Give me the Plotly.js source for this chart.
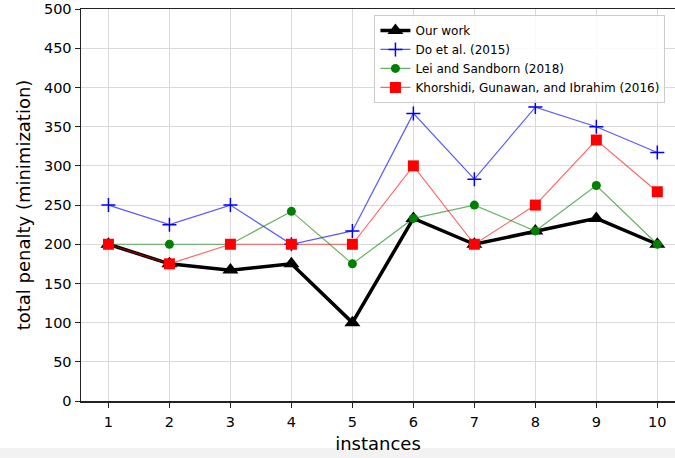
<!DOCTYPE html>
<html>
<head>
<meta charset="utf-8">
<script src="https://cdn.plot.ly/plotly-3.0.1.min.js"></script>
<style>html,body{margin:0;padding:0;background:#fff;}#chart{width:675px;height:458px;}</style>
</head>
<body>
<div id="chart"></div>
<script>
const instances = [1, 2, 3, 4, 5, 6, 7, 8, 9, 10];
const ourWork = [200, 175, 167, 175, 100, 233, 200, 217, 233, 200];
const doEtAl = [250, 225, 250, 200, 217, 367, 283, 375, 350, 317];
const leiSandborn = [200, 200, 200, 242, 175, 233, 250, 217, 275, 200];
const khorshidi = [200, 175, 200, 200, 200, 300, 200, 250, 333, 267];
const seriesNames = ["Our work", "Do et al. (2015)", "Lei and Sandborn (2018)", "Khorshidi, Gunawan, and Ibrahim (2016)"];
const yTicks = [0, 50, 100, 150, 200, 250, 300, 350, 400, 450, 500];

const traces = [
  {x: instances, y: ourWork, name: seriesNames[0], mode: "lines+markers",
   line: {color: "#000000", width: 3.5},
   marker: {symbol: "triangle-up", size: 14, color: "#000000"}},
  {x: instances, y: doEtAl, name: seriesNames[1], mode: "lines+markers",
   line: {color: "rgba(0,0,255,0.65)", width: 1.2},
   marker: {symbol: "cross-thin", size: 10, color: "#0000ff", line: {color: "#0000ff", width: 1.5}}},
  {x: instances, y: leiSandborn, name: seriesNames[2], mode: "lines+markers",
   line: {color: "rgba(0,128,0,0.6)", width: 1.2},
   marker: {symbol: "circle", size: 9, color: "#008000"}},
  {x: instances, y: khorshidi, name: seriesNames[3], mode: "lines+markers",
   line: {color: "rgba(255,0,0,0.6)", width: 1.2},
   marker: {symbol: "square", size: 11, color: "#ff0000"}}
];

const layout = {
  width: 675, height: 458,
  margin: {l: 81, r: 0, t: 9, b: 57, pad: 0},
  paper_bgcolor: "#ffffff", plot_bgcolor: "#ffffff",
  font: {family: "DejaVu Sans, sans-serif", color: "#000000"},
  showlegend: true,
  legend: {x: 0.494, y: 0.985, xanchor: "left", yanchor: "top",
    bgcolor: "rgba(255,255,255,0.85)", bordercolor: "#cccccc", borderwidth: 1,
    font: {size: 12, family: "DejaVu Sans, sans-serif"}, tracegroupgap: 0, itemwidth: 30},
  xaxis: {
    range: [0.55, 10.29], tickmode: "array", tickvals: instances, ticktext: instances.map(String),
    showgrid: true, gridcolor: "#d9d9d9", gridwidth: 1,
    showline: true, linecolor: "#222222", linewidth: 1.5, mirror: true,
    ticks: "outside", ticklen: 5, tickcolor: "#222222", ticklabelstandoff: 2,
    tickfont: {size: 14.5}, zeroline: false,
    title: {text: "instances", font: {size: 18}, standoff: 8}
  },
  yaxis: {
    range: [0, 500.2], tickmode: "array", tickvals: yTicks, ticktext: yTicks.map(String),
    showgrid: true, gridcolor: "#d9d9d9", gridwidth: 1,
    showline: true, linecolor: "#222222", linewidth: 1.5,
    ticks: "outside", ticklen: 5, tickcolor: "#222222",
    tickfont: {size: 14.5}, zeroline: false,
    title: {text: "total penalty (minimization)", font: {size: 18}, standoff: 8}
  },
  shapes: [{type: "rect", xref: "paper", yref: "paper", x0: -0.2, x1: 1.1, y0: -0.145, y1: -0.12,
    fillcolor: "#f2f2f2", line: {width: 0}, layer: "below"}]
};

Plotly.newPlot("chart", traces, layout, {displayModeBar: false, staticPlot: true});
</script>
</body>
</html>
